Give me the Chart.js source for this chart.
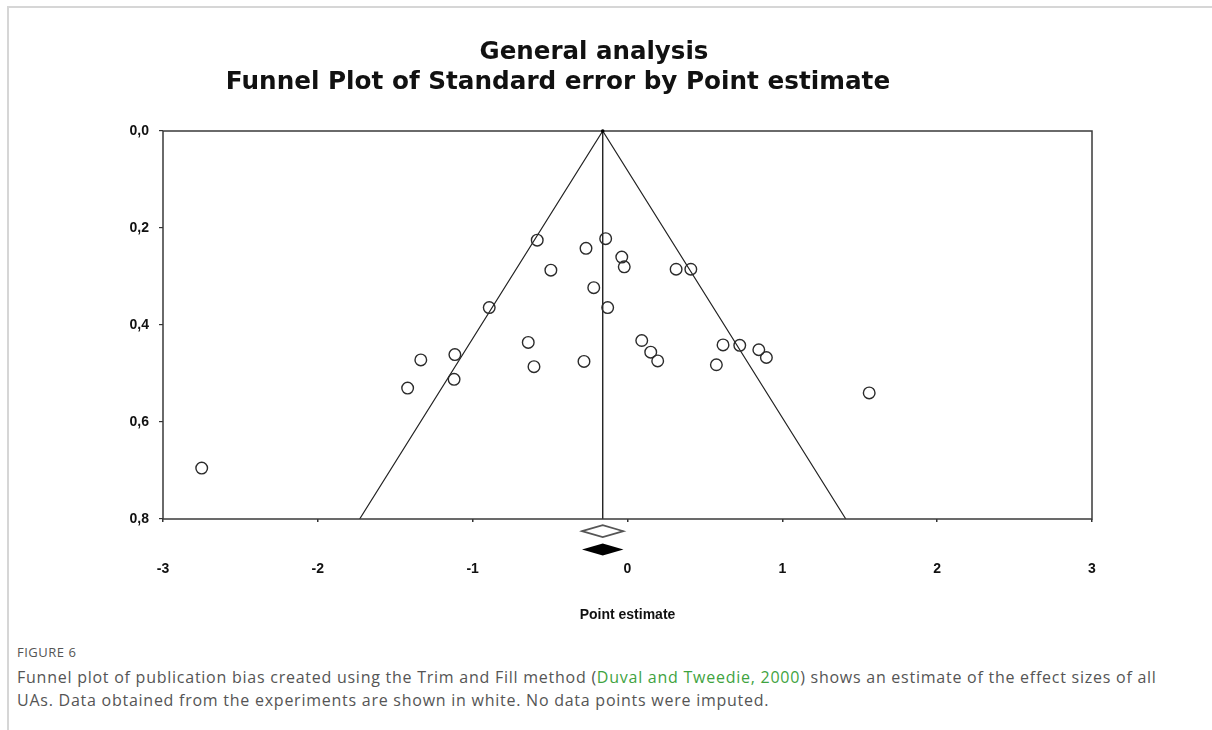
<!DOCTYPE html>
<html>
<head>
<meta charset="utf-8">
<script src="https://cdn.jsdelivr.net/npm/chart.js@4"></script>
<style>
  html, body { margin: 0; padding: 0; background: #fff; }
  body { width: 1212px; height: 730px; position: relative; overflow: hidden; }
  .frame {
    position: absolute; left: 7px; top: 6px; right: 0; bottom: 0;
    border-left: 2px solid #d6d6d6; border-top: 2px solid #d6d6d6;
  }
  .chartBox { position: absolute; left: 0; top: 0; width: 1212px; height: 640px; }
  .caption {
    position: absolute; left: 17px; top: 643px;
    font-family: "Open Sans", sans-serif; color: #555;
  }
  .caption .fig { font-size: 13px; letter-spacing: 0.5px; margin-bottom: 5px; }
  .caption p { margin: 0; font-size: 16px; line-height: 23px; letter-spacing: 0.75px; }
  .caption .ref { color: #3fa33f; }
</style>
</head>
<body>
<div class="frame"></div>
<div class="chartBox"><canvas class="funnelChart"></canvas></div>
<div class="caption">
  <div class="fig">FIGURE 6</div>
  <p>Funnel plot of publication bias created using the Trim and Fill method (<span class="ref">Duval and Tweedie, 2000</span>) shows an estimate of the effect sizes of all<br>UAs. Data obtained from the experiments are shown in white. No data points were imputed.</p>
</div>
<script>
"use strict";

const ctx = document.querySelector(".funnelChart");

// study effects (point estimate) and their standard errors
const pointEstimate = [
  -2.75, -1.42, -1.335, -1.115, -1.12, -0.893, -0.583, -0.495, -0.641, -0.604,
  -0.268, -0.218, -0.281, -0.141, -0.037, -0.021, -0.128, 0.092, 0.15, 0.195,
  0.314, 0.409, 0.617, 0.574, 0.725, 0.848, 0.897, 1.561,
];
const standardError = [
  0.695, 0.53, 0.472, 0.461, 0.512, 0.364, 0.225, 0.287, 0.436, 0.486,
  0.242, 0.323, 0.475, 0.222, 0.26, 0.28, 0.364, 0.432, 0.456, 0.474,
  0.285, 0.285, 0.441, 0.482, 0.442, 0.451, 0.467, 0.54,
];

// funnel outline (left foot, apex, right foot)
const funnelX = [-1.73, -0.16, 1.41];
const funnelY = [0.8, 0.0, 0.8];

// overall mean and its interval (observed = hollow, adjusted = filled)
const meanEstimate = -0.16;
const meanInterval = [-0.294, -0.026];
const diamondRows = [0.825, 0.863];

const xTickValues = [-3, -2, -1, 0, 1, 2, 3];
const xTickLabels = ["-3", "-2", "-1", "0", "1", "2", "3"];
const yTickValues = [0, 0.2, 0.4, 0.6, 0.8];
const yTickLabels = ["0,0", "0,2", "0,4", "0,6", "0,8"];

const axisFont = { family: "'Liberation Sans', Arial, sans-serif", size: 14, weight: "bold" };

function labelFor(values, labels, v) {
  const i = values.findIndex((t) => Math.abs(t - v) < 1e-6);
  return i < 0 ? "" : labels[i];
}

// box, diamonds and the two title lines
const extras = {
  id: "extras",
  afterDatasetsDraw(chart) {
    const c = chart.ctx;
    const area = chart.chartArea;
    const xs = chart.scales.x;
    const ys = chart.scales.y;
    c.save();
    c.strokeStyle = "#3a3a3a";
    c.lineWidth = 1.5;
    c.strokeRect(area.left, area.top, area.right - area.left, area.bottom - area.top);

    const lo = xs.getPixelForValue(meanInterval[0]);
    const hi = xs.getPixelForValue(meanInterval[1]);
    const mid = xs.getPixelForValue(meanEstimate);
    const half = 6;
    diamondRows.forEach((row, i) => {
      const y = ys.getPixelForValue(row);
      c.beginPath();
      c.moveTo(lo, y);
      c.lineTo(mid, y - half);
      c.lineTo(hi, y);
      c.lineTo(mid, y + half);
      c.closePath();
      if (i === 0) {
        c.strokeStyle = "#555";
        c.lineWidth = 1.6;
        c.stroke();
      } else {
        c.fillStyle = "#000";
        c.fill();
      }
    });

    c.fillStyle = "#000";
    c.beginPath();
    c.arc(mid, ys.getPixelForValue(0), 1.8, 0, Math.PI * 2);
    c.fill();

    c.fillStyle = "#111";
    c.textAlign = "center";
    c.textBaseline = "alphabetic";
    c.font = "bold 24.5px 'DejaVu Sans', Verdana, sans-serif";
    c.fillText("General analysis", 594, 59);
    c.font = "bold 24.7px 'DejaVu Sans', Verdana, sans-serif";
    c.fillText("Funnel Plot of Standard error by Point estimate", 558, 89);
    c.restore();
  },
};

const myChart = new Chart(ctx, {
  type: "scatter",
  data: {
    datasets: [
      {
        label: "Studies",
        data: pointEstimate.map((x, i) => ({ x: x, y: standardError[i] })),
        pointRadius: 5.8,
        pointBorderWidth: 1.4,
        borderColor: "#2b2b2b",
        backgroundColor: "rgba(255,255,255,0)",
        order: 1,
      },
      {
        label: "Funnel",
        data: funnelX.map((x, i) => ({ x: x, y: funnelY[i] })),
        showLine: true,
        pointRadius: 0,
        borderColor: "#222",
        borderWidth: 1.2,
        order: 2,
      },
      {
        label: "Mean",
        data: [
          { x: meanEstimate, y: 0 },
          { x: meanEstimate, y: 0.8 },
        ],
        showLine: true,
        pointRadius: 0,
        borderColor: "#222",
        borderWidth: 1.4,
        order: 2,
      },
    ],
  },
  options: {
    responsive: true,
    maintainAspectRatio: false,
    animation: false,
    layout: {
      padding: { left: 103, right: 120, top: 131, bottom: 16 },
    },
    plugins: {
      legend: { display: false },
      tooltip: { enabled: false },
      title: { display: false },
    },
    scales: {
      x: {
        type: "linear",
        min: -3,
        max: 3,
        afterFit: (s) => { s.height = 105; },
        border: { display: false },
        grid: { drawOnChartArea: false, tickLength: 3, color: "#333", lineWidth: 1.5 },
        ticks: {
          stepSize: 1,
          padding: 39,
          color: "#111",
          font: axisFont,
          callback: (v) => labelFor(xTickValues, xTickLabels, v),
        },
        title: {
          display: true,
          text: "Point estimate",
          color: "#111",
          font: axisFont,
          padding: { top: 0, bottom: 0 },
        },
      },
      y: {
        type: "linear",
        reverse: true,
        min: 0,
        max: 0.8,
        afterFit: (s) => { s.width = 60; },
        border: { display: false },
        grid: { drawOnChartArea: false, tickLength: 4, color: "#333", lineWidth: 1.2 },
        ticks: {
          stepSize: 0.2,
          padding: 10,
          color: "#111",
          font: axisFont,
          callback: (v) => labelFor(yTickValues, yTickLabels, v),
        },
      },
    },
  },
  plugins: [extras],
});
</script>
</body>
</html>
